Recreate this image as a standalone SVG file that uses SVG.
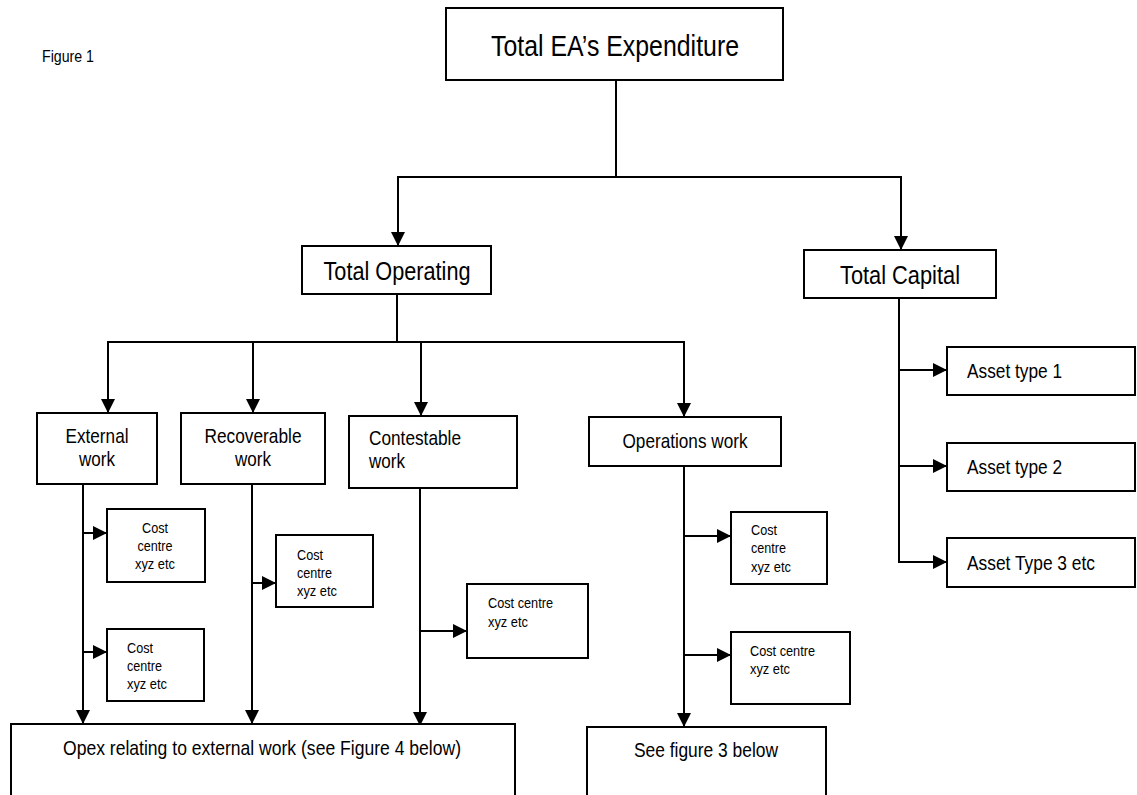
<svg xmlns="http://www.w3.org/2000/svg" width="1137" height="795" viewBox="0 0 1137 795">
<style>
.box{fill:#fff;stroke:#000;stroke-width:2}
.con{fill:none;stroke:#000;stroke-width:2}
text{font-family:"Liberation Sans",Arial,sans-serif;fill:#000}
.big{font-size:26px}
.mid{font-size:21px}
.sm{font-size:15.5px}
.c{text-anchor:middle}
</style>
<defs>
<marker id="ah" markerUnits="userSpaceOnUse" markerWidth="15" markerHeight="15" refX="14" refY="7" orient="auto">
<path d="M0,0 L14,7 L0,14 Z" fill="#000"/>
</marker>
</defs>
<rect width="1137" height="795" fill="#fff"/>
<text x="42" y="62" style="font-size:16px" textLength="52" lengthAdjust="spacingAndGlyphs">Figure 1</text>
<g id="connectors">
<path class="con" d="M616,80 V177"/>
<path class="con" d="M616,177 H398 V246" marker-end="url(#ah)"/>
<path class="con" d="M616,177 H901 V250" marker-end="url(#ah)"/>
<path class="con" d="M397,294 V342 H108 V413" marker-end="url(#ah)"/>
<path class="con" d="M253,342 V413" marker-end="url(#ah)"/>
<path class="con" d="M421,342 V416" marker-end="url(#ah)"/>
<path class="con" d="M397,342 H684 V417" marker-end="url(#ah)"/>
<path class="con" d="M83,484 V724" marker-end="url(#ah)"/>
<path class="con" d="M83,533 H107" marker-end="url(#ah)"/>
<path class="con" d="M83,652 H107" marker-end="url(#ah)"/>
<path class="con" d="M252,484 V724" marker-end="url(#ah)"/>
<path class="con" d="M252,583 H276" marker-end="url(#ah)"/>
<path class="con" d="M420,488 V726" marker-end="url(#ah)"/>
<path class="con" d="M420,631 H467" marker-end="url(#ah)"/>
<path class="con" d="M684,466 V727" marker-end="url(#ah)"/>
<path class="con" d="M684,536 H731" marker-end="url(#ah)"/>
<path class="con" d="M684,655 H731" marker-end="url(#ah)"/>
<path class="con" d="M899,298 V562 H947" marker-end="url(#ah)"/>
<path class="con" d="M899,370 H947" marker-end="url(#ah)"/>
<path class="con" d="M899,466 H947" marker-end="url(#ah)"/>
</g>
<g id="total">
<rect class="box" x="446" y="8" width="337" height="72"/>
<text class="c" x="615" y="56" style="font-size:29px" textLength="248" lengthAdjust="spacingAndGlyphs">Total EA’s Expenditure</text>
</g>
<g id="operating">
<rect class="box" x="302" y="246" width="189" height="48"/>
<text class="big c" x="397" y="280" textLength="147" lengthAdjust="spacingAndGlyphs">Total Operating</text>
</g>
<g id="capital">
<rect class="box" x="804" y="250" width="192" height="48"/>
<text class="big c" x="900" y="284" textLength="120" lengthAdjust="spacingAndGlyphs">Total Capital</text>
</g>
<g id="external">
<rect class="box" x="37" y="413" width="120" height="71"/>
<text class="mid c" x="97" y="443" textLength="63" lengthAdjust="spacingAndGlyphs">External</text>
<text class="mid c" x="97" y="466" textLength="36" lengthAdjust="spacingAndGlyphs">work</text>
</g>
<g id="recoverable">
<rect class="box" x="181" y="413" width="144" height="71"/>
<text class="mid c" x="253" y="443" textLength="97" lengthAdjust="spacingAndGlyphs">Recoverable</text>
<text class="mid c" x="253" y="466" textLength="36" lengthAdjust="spacingAndGlyphs">work</text>
</g>
<g id="contestable">
<rect class="box" x="349" y="416" width="168" height="72"/>
<text class="mid" x="369" y="445" textLength="92" lengthAdjust="spacingAndGlyphs">Contestable</text>
<text class="mid" x="369" y="468" textLength="36" lengthAdjust="spacingAndGlyphs">work</text>
</g>
<g id="operations">
<rect class="box" x="589" y="417" width="192" height="49"/>
<text class="mid c" x="685" y="448" textLength="125" lengthAdjust="spacingAndGlyphs">Operations work</text>
</g>
<g id="cc-ext-1">
<rect class="box" x="107" y="509" width="98" height="73"/>
<text class="sm c" x="155" y="533" textLength="26" lengthAdjust="spacingAndGlyphs">Cost</text>
<text class="sm c" x="155" y="551" textLength="35" lengthAdjust="spacingAndGlyphs">centre</text>
<text class="sm c" x="155" y="569" textLength="40" lengthAdjust="spacingAndGlyphs">xyz etc</text>
</g>
<g id="cc-ext-2">
<rect class="box" x="107" y="629" width="97" height="72"/>
<text class="sm" x="127" y="653" textLength="26" lengthAdjust="spacingAndGlyphs">Cost</text>
<text class="sm" x="127" y="671" textLength="35" lengthAdjust="spacingAndGlyphs">centre</text>
<text class="sm" x="127" y="689" textLength="40" lengthAdjust="spacingAndGlyphs">xyz etc</text>
</g>
<g id="cc-rec">
<rect class="box" x="276" y="535" width="97" height="72"/>
<text class="sm" x="297" y="560" textLength="26" lengthAdjust="spacingAndGlyphs">Cost</text>
<text class="sm" x="297" y="578" textLength="35" lengthAdjust="spacingAndGlyphs">centre</text>
<text class="sm" x="297" y="596" textLength="40" lengthAdjust="spacingAndGlyphs">xyz etc</text>
</g>
<g id="cc-cont">
<rect class="box" x="467" y="584" width="121" height="74"/>
<text class="sm" x="488" y="608" textLength="65" lengthAdjust="spacingAndGlyphs">Cost centre</text>
<text class="sm" x="488" y="627" textLength="40" lengthAdjust="spacingAndGlyphs">xyz etc</text>
</g>
<g id="cc-ops-1">
<rect class="box" x="731" y="512" width="96" height="72"/>
<text class="sm" x="751" y="535" textLength="26" lengthAdjust="spacingAndGlyphs">Cost</text>
<text class="sm" x="751" y="553" textLength="35" lengthAdjust="spacingAndGlyphs">centre</text>
<text class="sm" x="751" y="572" textLength="40" lengthAdjust="spacingAndGlyphs">xyz etc</text>
</g>
<g id="cc-ops-2">
<rect class="box" x="731" y="632" width="119" height="72"/>
<text class="sm" x="750" y="656" textLength="65" lengthAdjust="spacingAndGlyphs">Cost centre</text>
<text class="sm" x="750" y="674" textLength="40" lengthAdjust="spacingAndGlyphs">xyz etc</text>
</g>
<g id="asset-1">
<rect class="box" x="947" y="347" width="188" height="48"/>
<text class="mid" x="967" y="378" textLength="95" lengthAdjust="spacingAndGlyphs">Asset type 1</text>
</g>
<g id="asset-2">
<rect class="box" x="947" y="443" width="188" height="48"/>
<text class="mid" x="967" y="474" textLength="95" lengthAdjust="spacingAndGlyphs">Asset type 2</text>
</g>
<g id="asset-3">
<rect class="box" x="947" y="538" width="188" height="49"/>
<text class="mid" x="967" y="570" textLength="128" lengthAdjust="spacingAndGlyphs">Asset Type 3 etc</text>
</g>
<g id="opex">
<rect class="box" x="11" y="724" width="504" height="90"/>
<text class="mid" x="63" y="755" textLength="398" lengthAdjust="spacingAndGlyphs">Opex relating to external work (see Figure 4 below)</text>
</g>
<g id="see-fig3">
<rect class="box" x="587" y="727" width="239" height="90"/>
<text class="mid" x="634" y="757" textLength="144" lengthAdjust="spacingAndGlyphs">See figure 3 below</text>
</g>
</svg>
